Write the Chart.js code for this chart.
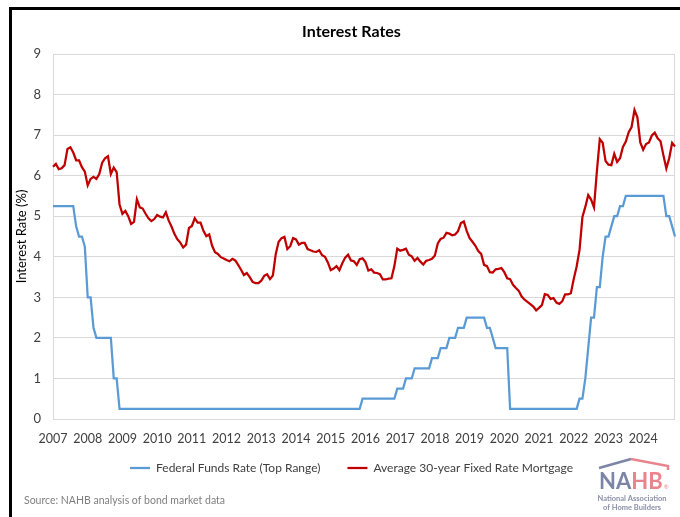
<!DOCTYPE html>
<html>
<head>
<meta charset="utf-8">
<title>Interest Rates</title>
<script src="https://cdn.jsdelivr.net/npm/chart.js@4.4.1/dist/chart.umd.min.js"></script>
<style>
  html, body { margin: 0; padding: 0; background: #fff; }
  #wrap { width: 680px; height: 517px; position: relative; }
</style>
</head>
<body>
<div id="wrap"><canvas id="ratesChart" width="680" height="517"></canvas></div>
<script>
// monthly data, Jan 2007 - Dec 2024
var years = [2007, 2008, 2009, 2010, 2011, 2012, 2013, 2014, 2015, 2016, 2017, 2018, 2019, 2020, 2021, 2022, 2023, 2024];

var fedFunds = [
  5.25, 5.25, 5.25, 5.25, 5.25, 5.25, 5.25, 5.25, 4.75, 4.5, 4.5, 4.25,   // 2007
  3.0, 3.0, 2.25, 2.0, 2.0, 2.0, 2.0, 2.0, 2.0, 1.0, 1.0, 0.25,           // 2008
  0.25, 0.25, 0.25, 0.25, 0.25, 0.25, 0.25, 0.25, 0.25, 0.25, 0.25, 0.25, // 2009
  0.25, 0.25, 0.25, 0.25, 0.25, 0.25, 0.25, 0.25, 0.25, 0.25, 0.25, 0.25, // 2010
  0.25, 0.25, 0.25, 0.25, 0.25, 0.25, 0.25, 0.25, 0.25, 0.25, 0.25, 0.25, // 2011
  0.25, 0.25, 0.25, 0.25, 0.25, 0.25, 0.25, 0.25, 0.25, 0.25, 0.25, 0.25, // 2012
  0.25, 0.25, 0.25, 0.25, 0.25, 0.25, 0.25, 0.25, 0.25, 0.25, 0.25, 0.25, // 2013
  0.25, 0.25, 0.25, 0.25, 0.25, 0.25, 0.25, 0.25, 0.25, 0.25, 0.25, 0.25, // 2014
  0.25, 0.25, 0.25, 0.25, 0.25, 0.25, 0.25, 0.25, 0.25, 0.25, 0.25, 0.5,  // 2015
  0.5, 0.5, 0.5, 0.5, 0.5, 0.5, 0.5, 0.5, 0.5, 0.5, 0.5, 0.75,            // 2016
  0.75, 0.75, 1.0, 1.0, 1.0, 1.25, 1.25, 1.25, 1.25, 1.25, 1.25, 1.5,     // 2017
  1.5, 1.5, 1.75, 1.75, 1.75, 2.0, 2.0, 2.0, 2.25, 2.25, 2.25, 2.5,       // 2018
  2.5, 2.5, 2.5, 2.5, 2.5, 2.5, 2.25, 2.25, 2.0, 1.75, 1.75, 1.75,        // 2019
  1.75, 1.75, 0.25, 0.25, 0.25, 0.25, 0.25, 0.25, 0.25, 0.25, 0.25, 0.25, // 2020
  0.25, 0.25, 0.25, 0.25, 0.25, 0.25, 0.25, 0.25, 0.25, 0.25, 0.25, 0.25, // 2021
  0.25, 0.25, 0.5, 0.5, 1.0, 1.75, 2.5, 2.5, 3.25, 3.25, 4.0, 4.5,        // 2022
  4.5, 4.75, 5.0, 5.0, 5.25, 5.25, 5.5, 5.5, 5.5, 5.5, 5.5, 5.5,          // 2023
  5.5, 5.5, 5.5, 5.5, 5.5, 5.5, 5.5, 5.5, 5.0, 5.0, 4.75, 4.5             // 2024
];

var mortgage30 = [
  6.22, 6.29, 6.16, 6.18, 6.26, 6.66, 6.70, 6.57, 6.38, 6.38, 6.21, 6.10, // 2007
  5.76, 5.92, 5.97, 5.92, 6.04, 6.32, 6.43, 6.48, 6.04, 6.20, 6.09, 5.29, // 2008
  5.06, 5.13, 5.00, 4.81, 4.86, 5.42, 5.22, 5.19, 5.06, 4.95, 4.88, 4.93, // 2009
  5.03, 4.99, 4.97, 5.10, 4.89, 4.74, 4.56, 4.43, 4.35, 4.23, 4.30, 4.71, // 2010
  4.76, 4.95, 4.84, 4.84, 4.64, 4.51, 4.55, 4.27, 4.11, 4.07, 3.99, 3.96, // 2011
  3.92, 3.89, 3.95, 3.91, 3.80, 3.68, 3.55, 3.60, 3.50, 3.38, 3.35, 3.35, // 2012
  3.41, 3.53, 3.57, 3.45, 3.54, 4.07, 4.37, 4.46, 4.49, 4.19, 4.26, 4.46, // 2013
  4.43, 4.30, 4.34, 4.34, 4.19, 4.16, 4.13, 4.12, 4.16, 4.04, 4.00, 3.86, // 2014
  3.67, 3.71, 3.77, 3.67, 3.84, 3.98, 4.05, 3.91, 3.89, 3.80, 3.94, 3.96, // 2015
  3.87, 3.66, 3.69, 3.61, 3.60, 3.57, 3.44, 3.44, 3.46, 3.47, 3.77, 4.20, // 2016
  4.15, 4.17, 4.20, 4.05, 4.01, 3.90, 3.97, 3.88, 3.81, 3.90, 3.92, 3.95, // 2017
  4.03, 4.33, 4.44, 4.47, 4.59, 4.57, 4.53, 4.55, 4.63, 4.83, 4.87, 4.64, // 2018
  4.46, 4.37, 4.27, 4.14, 4.07, 3.80, 3.77, 3.62, 3.61, 3.69, 3.70, 3.72, // 2019
  3.62, 3.47, 3.45, 3.31, 3.23, 3.16, 3.02, 2.94, 2.89, 2.83, 2.77, 2.68, // 2020
  2.74, 2.81, 3.08, 3.06, 2.96, 2.98, 2.87, 2.84, 2.90, 3.07, 3.07, 3.10, // 2021
  3.45, 3.76, 4.17, 4.98, 5.23, 5.52, 5.41, 5.22, 6.11, 6.90, 6.81, 6.36, // 2022
  6.27, 6.26, 6.54, 6.34, 6.43, 6.71, 6.84, 7.07, 7.20, 7.62, 7.44, 6.82, // 2023
  6.64, 6.78, 6.82, 6.99, 7.06, 6.92, 6.85, 6.50, 6.18, 6.43, 6.81, 6.72  // 2024
];

var seriesNames = ['Federal Funds Rate (Top Range)', 'Average 30-year Fixed Rate Mortgage'];
var yMin = 0, yMax = 9, yStep = 1;

// one label per month, only January gets shown
var labels = [];
years.forEach(function (y) {
  for (var m = 1; m <= 12; m++) labels.push(y + '-' + (m < 10 ? '0' + m : m));
});

Chart.defaults.font.family = "Lato, 'Open Sans', sans-serif";
Chart.defaults.color = '#595959';

// light grey box round the plot area, black frame, source note and logo
var extras = {
  id: 'extras',
  afterLayout: function (chart) {
    // title and legend sit a bit right of the canvas centre, legend pulled up
    chart.titleBlock.left += 8; chart.titleBlock.right += 8;
    chart.legend.left += 8; chart.legend.right += 8;
    chart.legend.top -= 20; chart.legend.bottom -= 20;
  },
  beforeDatasetsDraw: function (chart) {
    var a = chart.chartArea, ctx = chart.ctx;
    ctx.save();
    ctx.strokeStyle = '#d9d9d9';
    ctx.lineWidth = 1;
    ctx.strokeRect(Math.round(a.left) + 0.5, Math.round(a.top) + 0.5,
      Math.round(a.right - a.left) - 1, Math.round(a.bottom - a.top));
    ctx.restore();
  },
  afterDraw: function (chart) {
    var ctx = chart.ctx;
    ctx.save();
    ctx.fillStyle = '#000';
    ctx.fillRect(9, 7, 671, 3);
    ctx.fillRect(9, 7, 3, 510);

    ctx.fillStyle = '#7f7f7f';
    ctx.font = "10.5px Lato, sans-serif";
    ctx.textBaseline = 'middle';
    ctx.textAlign = 'left';
    ctx.fillText('Source: NAHB analysis of bond market data', 24, 501);

    // NAHB logo
    var blue = '#7c85a5', red = '#e8848c';
    ctx.lineWidth = 2.5;
    ctx.lineCap = 'butt';
    ctx.strokeStyle = blue;
    ctx.beginPath(); ctx.moveTo(599, 468); ctx.lineTo(631, 459); ctx.stroke();
    ctx.strokeStyle = red;
    ctx.beginPath(); ctx.moveTo(631, 459); ctx.lineTo(668, 466); ctx.lineTo(668, 470); ctx.stroke();

    ctx.font = "bold 22px Lato, sans-serif";
    ctx.textBaseline = 'alphabetic';
    ctx.fillStyle = blue;
    ctx.fillText('NA', 599, 489);
    var w = ctx.measureText('NA').width;
    ctx.fillStyle = red;
    ctx.fillText('HB', 599 + w, 489);
    var w2 = ctx.measureText('HB').width;
    ctx.font = "6px Lato, sans-serif";
    ctx.fillText('\u00AE', 600 + w + w2, 489);

    ctx.fillStyle = '#8a90a8';
    ctx.font = "bold 7.5px Lato, sans-serif";
    ctx.textAlign = 'center';
    ctx.fillText('National Association', 632, 501);
    ctx.fillText('of Home Builders', 632, 510);
    ctx.restore();
  }
};

var ctxRates = document.getElementById('ratesChart');
var chart = new Chart(ctxRates, {
  type: 'line',
  data: {
    labels: labels,
    datasets: [{
      label: seriesNames[0],
      data: fedFunds,
      borderColor: '#5b9bd5',
      backgroundColor: '#5b9bd5',
      borderWidth: 2.25,
      pointRadius: 0,
      tension: 0
    }, {
      label: seriesNames[1],
      data: mortgage30,
      borderColor: '#c00000',
      backgroundColor: '#c00000',
      borderWidth: 2.25,
      pointRadius: 0,
      tension: 0
    }]
  },
  options: {
    responsive: false,
    animation: false,
    layout: { padding: { left: 12, right: 5, top: 12, bottom: 13 } },
    plugins: {
      title: {
        display: true,
        text: 'Interest Rates',
        color: '#000',
        font: { size: 16, weight: 'bold' },
        padding: { top: 10, bottom: 12.8 }
      },
      legend: {
        position: 'bottom',
        labels: {
          usePointStyle: true,
          pointStyle: 'line',
          pointStyleWidth: 20,
          color: '#404040',
          font: { size: 12 },
          padding: 27
        }
      },
      tooltip: { enabled: false }
    },
    scales: {
      x: {
        grid: { display: false },
        border: { display: false },
        ticks: {
          autoSkip: false,
          maxRotation: 0,
          padding: 4,
          font: { size: 12.5 },
          color: '#404040',
          callback: function (val, idx) {
            return idx % 12 === 0 ? String(years[idx / 12]) : '';
          }
        },
        afterFit: function (scale) { scale.height = 36; }
      },
      y: {
        min: yMin,
        max: yMax,
        grid: { color: '#d9d9d9', drawTicks: false },
        border: { display: false },
        ticks: { stepSize: yStep, padding: 12, font: { size: 13 }, color: '#404040' },
        title: {
          display: true,
          text: 'Interest Rate (%)',
          color: '#000',
          font: { size: 13 },
          padding: { top: 2, bottom: 0 }
        },
        afterFit: function (scale) { scale.width = 41; }
      }
    }
  },
  plugins: [extras]
});
</script>
</body>
</html>
